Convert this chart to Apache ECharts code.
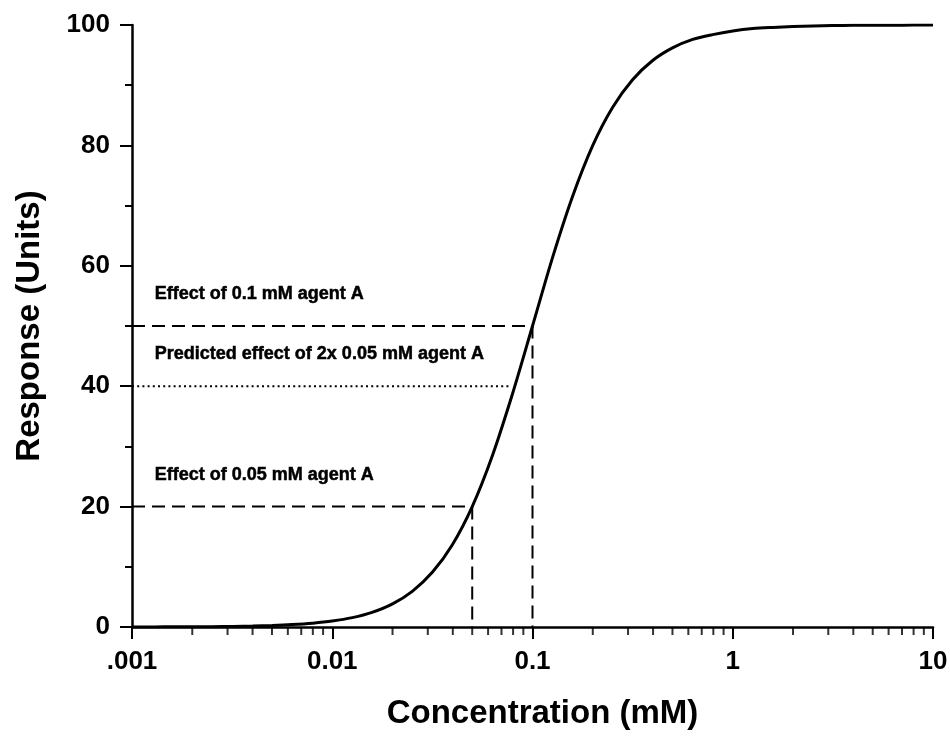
<!DOCTYPE html>
<html>
<head>
<meta charset="utf-8">
<script src="https://cdn.jsdelivr.net/npm/echarts@6/dist/echarts.min.js"></script>
<style>
html,body{margin:0;padding:0;background:#fff;}
#chart{width:950px;height:739px;}
</style>
</head>
<body>
<div id="chart"></div>
<script>
// Dose-response curve
const concentration = [0.001, 0.0013, 0.0016, 0.002, 0.0025, 0.0032, 0.004, 0.005, 0.0063, 0.008,
                       0.01, 0.0126, 0.0158, 0.02, 0.0251, 0.0316, 0.0398, 0.05, 0.0631, 0.0794,
                       0.1, 0.126, 0.158, 0.2, 0.251, 0.316, 0.398, 0.5, 0.631, 0.794,
                       1, 1.26, 1.58, 2, 2.51, 3.16, 3.98, 5, 6.31, 7.94, 10];
const response      = [0.01, 0.017, 0.026, 0.04, 0.062, 0.10, 0.16, 0.25, 0.40, 0.64,
                       0.99, 1.56, 2.43, 3.85, 5.93, 9.08, 13.67, 20, 28.5, 38.7,
                       50, 61.4, 71.4, 80, 86.3, 90.9, 94.1, 96.2, 97.6, 98.4,
                       99.0, 99.4, 99.6, 99.75, 99.84, 99.9, 99.94, 99.96, 99.97, 99.98, 99.99];

// Guide lines
const guide01x  = [0.001, 0.1, 0.1];
const guide01y  = [50, 50, 0];
const guide005x = [0.001, 0.05, 0.05];
const guide005y = [20, 20, 0];
const predictedX = [0.001, 0.078];
const predictedY = [40, 40];

// Annotations
const noteTexts = ['Effect of 0.1 mM agent A', 'Predicted effect of 2x 0.05 mM agent A', 'Effect of 0.05 mM agent A'];
const noteX = [0.0013, 0.0013, 0.0013];
const noteY = [55.3, 45.4, 25.2];

// Axis ticks
const xTickValues = [0.001, 0.01, 0.1, 1, 10];
const xTickLabels = ['.001', '0.01', '0.1', '1', '10'];
const xMinorTicks = [0.002,0.003,0.004,0.005,0.006,0.007,0.008,0.009,
                     0.02,0.03,0.04,0.05,0.06,0.07,0.08,0.09,
                     0.2,0.3,0.4,0.5,0.6,0.7,0.8,0.9,
                     2,3,4,5,6,7,8,9];

const zip = (a, b) => a.map((v, i) => [v, b[i]]);
const FONT = "'Liberation Sans', Arial, Helvetica, sans-serif";

const chart = echarts.init(document.getElementById('chart'), null, {renderer: 'canvas'});
chart.setOption({
  backgroundColor: '#fff',
  animation: false,
  grid: {left: 132, right: 17, top: 25, bottom: 112, containLabel: false, outerBoundsMode: 'none'},
  xAxis: {
    type: 'log', logBase: 10, min: 0.001, max: 10,
    name: 'Concentration (mM)', nameLocation: 'middle', nameGap: 70,
    nameTextStyle: {fontFamily: FONT, fontWeight: 'bold', fontSize: 33, color: '#000', padding: [0, 0, 0, 20]},
    axisLine: {show: true, onZero: false, lineStyle: {color: '#000', width: 2.5}},
    axisTick: {show: true, inside: false, length: 12, lineStyle: {color: '#000', width: 2}},
    minorTick: {show: false},
    splitLine: {show: false},
    axisLabel: {
      show: true, margin: 22, showMinLabel: true, showMaxLabel: true,
      fontFamily: FONT, fontWeight: 'bold', fontSize: 26, color: '#000',
      formatter: function (v) {
        for (let i = 0; i < xTickValues.length; i++) {
          if (Math.abs(Math.log10(v) - Math.log10(xTickValues[i])) < 1e-6) return xTickLabels[i];
        }
        return '';
      }
    }
  },
  yAxis: {
    type: 'value', min: 0, max: 100, interval: 20,
    name: 'Response (Units)', nameLocation: 'middle', nameGap: 86, nameRotate: 90,
    nameTextStyle: {fontFamily: FONT, fontWeight: 'bold', fontSize: 33, color: '#000'},
    axisLine: {show: true, onZero: false, lineStyle: {color: '#000', width: 2.5}},
    axisTick: {show: true, inside: false, length: 12, lineStyle: {color: '#000', width: 2}},
    minorTick: {show: true, splitNumber: 2, length: 7, lineStyle: {color: '#000', width: 2}},
    splitLine: {show: false},
    minorSplitLine: {show: false},
    axisLabel: {margin: 22, fontFamily: FONT, fontWeight: 'bold', fontSize: 26, color: '#000'}
  },
  series: [
    {
      type: 'line', data: zip(guide01x, guide01y), symbol: 'none', silent: true,
      lineStyle: {color: '#000', width: 2, type: [13, 7]}, z: 2
    },
    {
      type: 'line', data: zip(guide005x, guide005y), symbol: 'none', silent: true,
      lineStyle: {color: '#000', width: 2, type: [13, 7]}, z: 2
    },
    {
      type: 'line', data: zip(predictedX, predictedY), symbol: 'none', silent: true,
      lineStyle: {color: '#000', width: 2, type: [2, 3.2]}, z: 2
    },
    {
      type: 'line', data: zip(concentration, response), symbol: 'none', smooth: 0.3, silent: true,
      lineStyle: {color: '#000', width: 3}, z: 3
    },
    {
      type: 'scatter', data: xMinorTicks.map(v => [v, 0]), symbol: 'rect', symbolSize: [2, 8],
      symbolOffset: [0, 4], itemStyle: {color: '#000'}, clip: false, silent: true, z: 5
    },
    {
      type: 'scatter', symbolSize: 0, silent: true, clip: false,
      itemStyle: {color: '#000', opacity: 1},
      data: noteX.map((x, i) => [x, noteY[i], noteTexts[i]]),
      label: {
        show: true, position: 'right', distance: 0, opacity: 1,
        fontFamily: FONT, fontWeight: 'bold', fontSize: 18, color: '#000',
        textBorderColor: '#000', textBorderWidth: 0.5,
        formatter: p => p.data[2]
      }
    }
  ]
});
</script>
</body>
</html>
